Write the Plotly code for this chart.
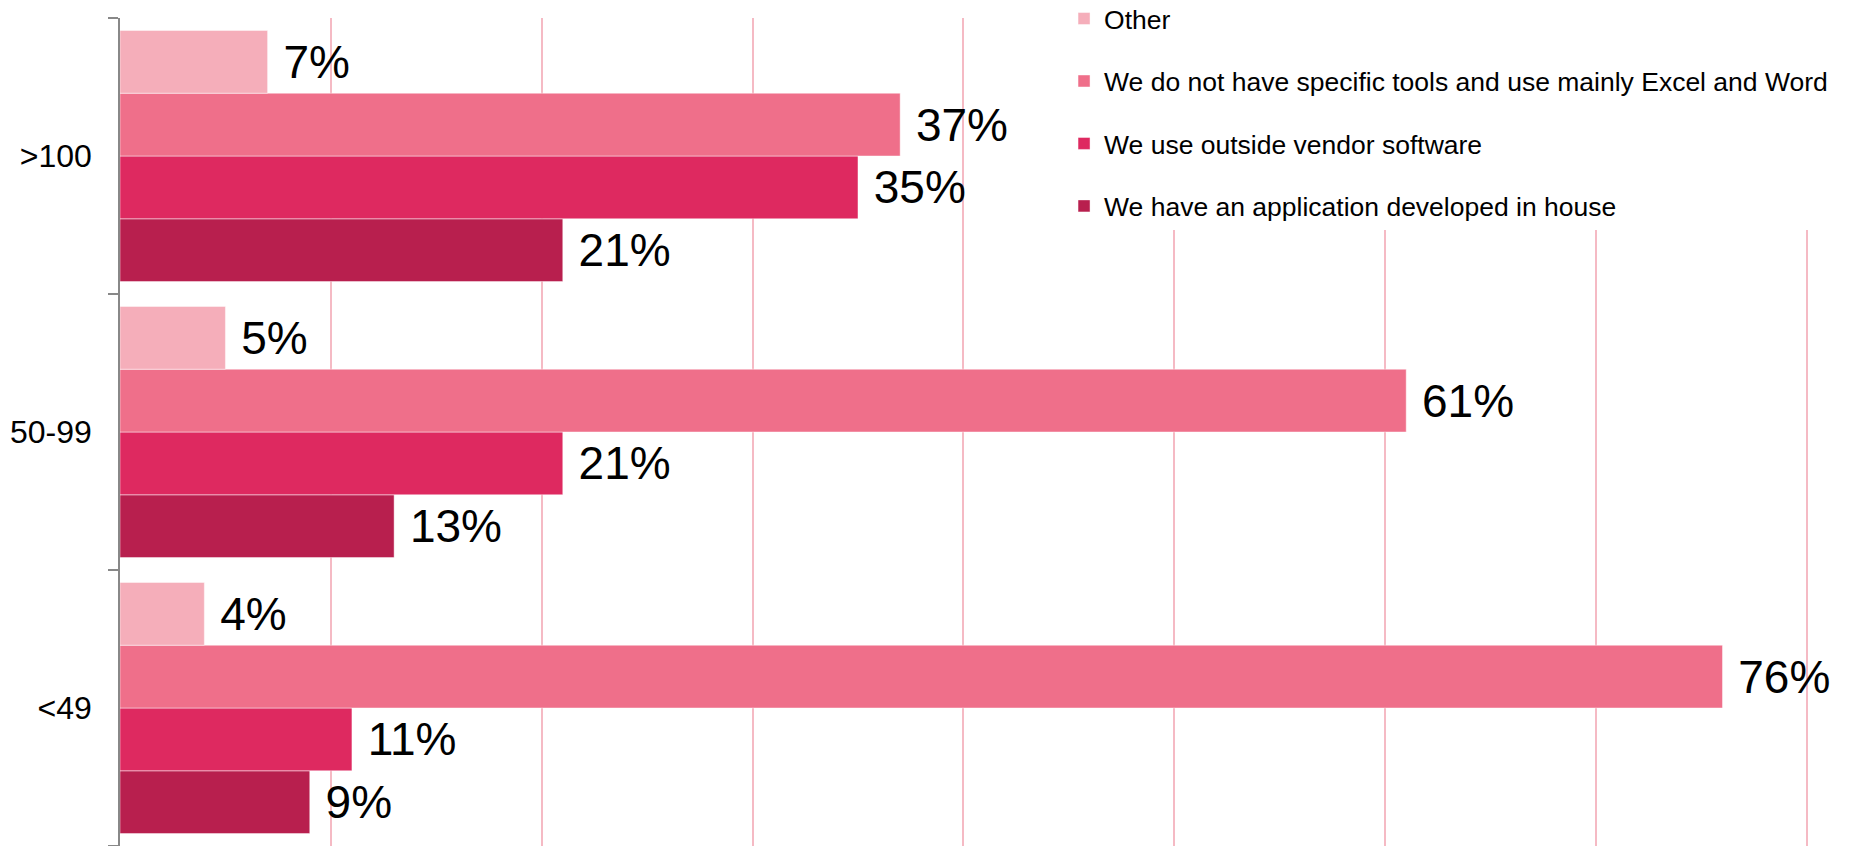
import plotly.graph_objects as go

categories = ["<49", "50-99", ">100"]
series_names = [
    "We have an application developed in house",
    "We use outside vendor software",
    "We do not have specific tools and use mainly Excel and Word",
    "Other",
]
in_house = [9, 13, 21]
vendor = [11, 21, 35]
excel_word = [76, 61, 37]
other = [4, 5, 7]
values = [in_house, vendor, excel_word, other]
colors = ["#B81F4E", "#DE2960", "#EF6F8A", "#F5AEBA"]
legend_ranks = [4, 3, 2, 1]

fig = go.Figure()
for i, (name, vals, col) in enumerate(zip(series_names, values, colors)):
    fig.add_trace(go.Bar(
        y=categories, x=vals, name=name, orientation="h",
        marker=dict(color=col, line=dict(color="rgba(255,255,255,0.45)", width=1)),
        text=vals, texttemplate="\u00a0%{x}%", textposition="outside",
        textfont=dict(family="Liberation Sans, Arial", size=46, color="black"),
        constraintext="none", cliponaxis=False,
        legendgroup="g%d" % i, legendrank=legend_ranks[i],
    ))

fig.update_layout(
    width=1857, height=846,
    margin=dict(l=120, r=8, t=18, b=0, autoexpand=False),
    paper_bgcolor="white", plot_bgcolor="white",
    barmode="group", bargap=0.09, bargroupgap=0,
    font=dict(family="Liberation Sans, Arial", color="black"),
    showlegend=True,
    legend=dict(
        x=0.546, xanchor="left", y=1.028, yanchor="top",
        traceorder="grouped", tracegroupgap=25,
        bgcolor="white",
        font=dict(family="Liberation Sans, Arial", size=26.5, color="black"),
        itemclick=False,
    ),
    xaxis=dict(
        range=[0, 82], showticklabels=False, zeroline=False,
        showgrid=True, gridcolor="#F5BAC4", gridwidth=2, dtick=10,
        showline=False, ticks="",
    ),
    yaxis=dict(
        showline=True, linecolor="#888888", linewidth=1.5,
        ticks="outside", tickson="boundaries", ticklen=10, tickcolor="#888888", tickwidth=1.5,
        tickfont=dict(size=32, color="black"), ticklabelstandoff=20,
        showgrid=False, zeroline=False,
    ),
)

fig.write_html("out.html")
